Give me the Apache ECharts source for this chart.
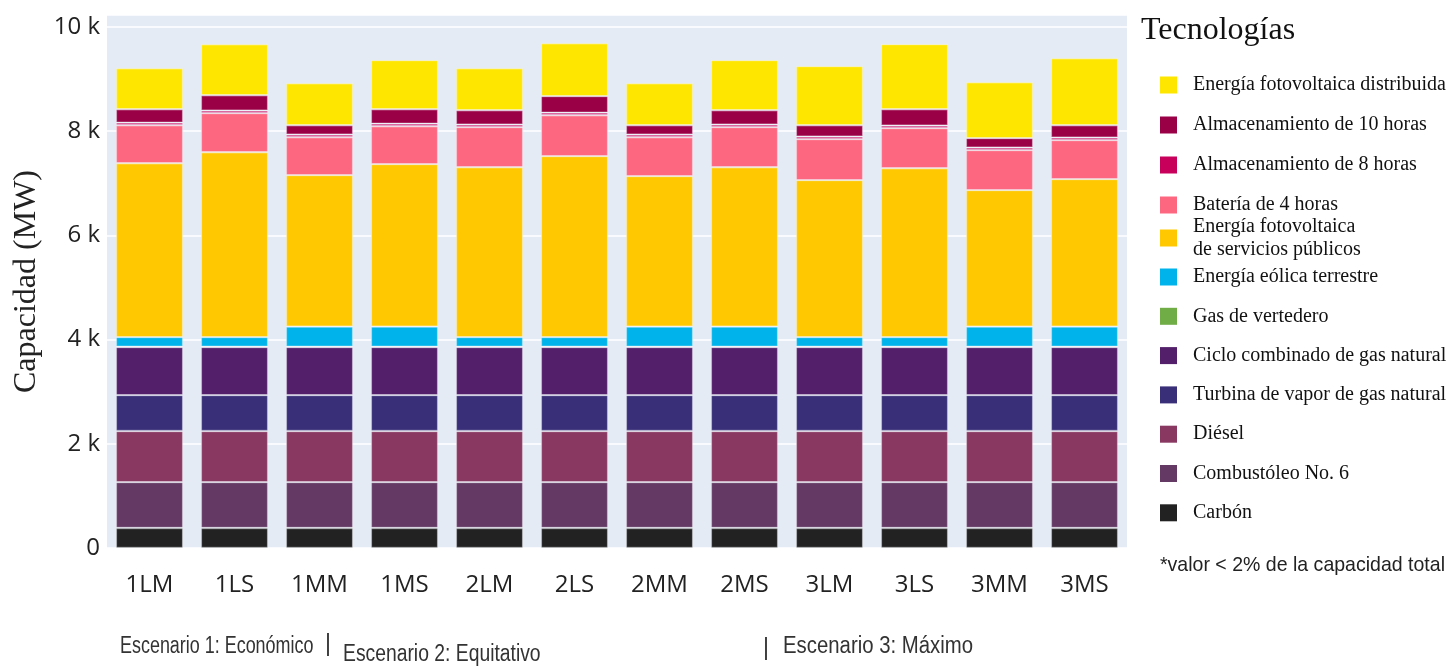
<!DOCTYPE html>
<html>
<head>
<meta charset="utf-8">
<title>Capacidad instalada por escenario</title>
<script src="https://cdn.jsdelivr.net/npm/echarts@6/dist/echarts.min.js"></script>
<style>
  html, body { margin: 0; padding: 0; background: #ffffff; }
  #chart { width: 1452px; height: 668px; }
</style>
</head>
<body>
<div id="chart"></div>
<script>
// Escenarios (1: Económico, 2: Equitativo, 3: Máximo)
const categories = ['1LM', '1LS', '1MM', '1MS', '2LM', '2LS', '2MM', '2MS', '3LM', '3LS', '3MM', '3MS'];

// Capacidad por tecnología, MW (de abajo hacia arriba en cada barra)
const carbon      = [385, 385, 385, 385, 385, 385, 385, 385, 385, 385, 385, 385];
const combustoleo = [880, 880, 880, 880, 880, 880, 880, 880, 880, 880, 880, 880];
const diesel      = [980, 980, 980, 980, 980, 980, 980, 980, 980, 980, 980, 980];
const turbinaGas  = [690, 690, 690, 690, 690, 690, 690, 690, 690, 690, 690, 690];
const cicloGas    = [920, 920, 920, 920, 920, 920, 920, 920, 920, 920, 920, 920];
const vertedero   = [10, 10, 10, 10, 10, 10, 10, 10, 10, 10, 10, 10];
const eolica      = [182, 182, 385, 385, 182, 182, 385, 385, 182, 182, 385, 385];
const fvPublica   = [3339, 3550, 2906, 3117, 3262, 3474, 2887, 3059, 3013, 3243, 2618, 2829];
const bateria4h   = [729, 749, 729, 729, 768, 786, 748, 768, 787, 768, 768, 749];
const almac8h     = [50, 50, 50, 50, 50, 50, 50, 50, 50, 50, 50, 50];
const almac10h    = [257, 295, 180, 276, 276, 315, 180, 276, 218, 314, 180, 237];
const fvDistrib   = [787, 979, 806, 941, 806, 1017, 806, 960, 1133, 1249, 1074, 1286];

// Etiquetas del eje de capacidad
const yTicks = [0, 2000, 4000, 6000, 8000, 10000];
const yTickLabels = ['0', '2 k', '4 k', '6 k', '8 k', '10 k'];

const tecnologias = [
  { name: 'Carbón', data: carbon, color: '#222222' },
  { name: 'Combustóleo No. 6', data: combustoleo, color: '#643a64' },
  { name: 'Diésel', data: diesel, color: '#893862' },
  { name: 'Turbina de vapor de gas natural', data: turbinaGas, color: '#382f78' },
  { name: 'Ciclo combinado de gas natural', data: cicloGas, color: '#531e6a' },
  { name: 'Gas de vertedero', data: vertedero, color: '#70ad47' },
  { name: 'Energía eólica terrestre', data: eolica, color: '#00b3ea' },
  { name: 'Energía fotovoltaica\nde servicios públicos', data: fvPublica, color: '#ffc800' },
  { name: 'Batería de 4 horas', data: bateria4h, color: '#fe6780' },
  { name: 'Almacenamiento de 8 horas', data: almac8h, color: '#c8005c' },
  { name: 'Almacenamiento de 10 horas', data: almac10h, color: '#990046' },
  { name: 'Energía fotovoltaica distribuida', data: fvDistrib, color: '#ffe600' }
];

const serif = 'Liberation Serif';
const sans = 'Liberation Sans';

const series = tecnologias.map(t => ({
  name: t.name,
  type: 'bar',
  stack: 'capacidad',
  data: t.data,
  barCategoryGap: '21%',
  itemStyle: {
    color: t.color,
    borderColor: 'rgba(255,255,255,0.32)',
    borderWidth: 1.2
  },
  emphasis: { disabled: true }
}));

const legendText = {
  fontFamily: serif,
  fontSize: 20,
  lineHeight: 20,
  color: '#111111',
  padding: [0, 0, 0, 11]
};
const legendBase = {
  orient: 'vertical',
  left: 1155,
  icon: 'rect',
  itemWidth: 17,
  itemHeight: 17,
  selectedMode: true,
  itemStyle: { borderWidth: 0 },
  textStyle: legendText
};

const chart = echarts.init(document.getElementById('chart'), null, { renderer: 'canvas' });

chart.setOption({
  backgroundColor: '#ffffff',
  animation: false,
  title: {
    text: 'Tecnologías',
    left: 1136,
    top: 10,
    textStyle: { fontFamily: serif, fontSize: 32, fontWeight: 'normal', color: '#111111' }
  },
  legend: [
    Object.assign({}, legendBase, {
      top: 70,
      itemGap: 20,
      data: ['Energía fotovoltaica distribuida', 'Almacenamiento de 10 horas',
             'Almacenamiento de 8 horas', 'Batería de 4 horas']
    }),
    Object.assign({}, legendBase, {
      top: 210,
      itemGap: 0,
      textStyle: Object.assign({}, legendText, { lineHeight: 23 }),
      data: ['Energía fotovoltaica\nde servicios públicos']
    }),
    Object.assign({}, legendBase, {
      top: 262,
      itemGap: 19.3,
      data: ['Energía eólica terrestre', 'Gas de vertedero', 'Ciclo combinado de gas natural',
             'Turbina de vapor de gas natural', 'Diésel', 'Combustóleo No. 6', 'Carbón']
    })
  ],
  grid: {
    left: 107,
    right: 325,
    top: 15,
    bottom: 120,
    show: true,
    backgroundColor: '#e5ebf5',
    borderWidth: 0
  },
  xAxis: {
    type: 'category',
    data: categories,
    axisLine: { show: false },
    axisTick: { show: false },
    axisLabel: {
      margin: 25,
      fontFamily: 'Open Sans',
      fontSize: 24,
      color: '#222222'
    }
  },
  yAxis: {
    type: 'value',
    min: 0,
    max: 10230,
    interval: 2000,
    name: 'Capacidad (MW)',
    nameLocation: 'middle',
    nameGap: 62,
    nameTextStyle: { fontFamily: serif, fontSize: 32, color: '#222222' },
    axisLine: { show: false },
    axisTick: { show: false },
    splitLine: { lineStyle: { color: '#ffffff', width: 1.5 } },
    axisLabel: {
      margin: 7,
      fontFamily: 'Open Sans',
      fontSize: 24,
      color: '#222222',
      formatter: v => {
        const i = yTicks.indexOf(v);
        return i >= 0 ? yTickLabels[i] : '';
      }
    }
  },
  graphic: [
    {
      type: 'text', left: 120, top: 635, scaleX: 0.78,
      style: { text: 'Escenario 1: Económico', font: '23px ' + sans, fill: '#333333' }
    },
    {
      type: 'text', left: 325, top: 633,
      style: { text: '|', font: '23px ' + sans, fill: '#333333' }
    },
    {
      type: 'text', left: 343, top: 643, scaleX: 0.84,
      style: { text: 'Escenario 2: Equitativo', font: '23px ' + sans, fill: '#333333' }
    },
    {
      type: 'text', left: 763, top: 637,
      style: { text: '|', font: '23px ' + sans, fill: '#333333' }
    },
    {
      type: 'text', left: 783, top: 635, scaleX: 0.885,
      style: { text: 'Escenario 3: Máximo', font: '23px ' + sans, fill: '#333333' }
    },
    {
      type: 'text', left: 1160, top: 555, scaleX: 0.93,
      style: { text: '*valor < 2% de la capacidad total', font: '21px ' + sans, fill: '#222222' }
    }
  ],
  series: series
});
</script>
</body>
</html>
